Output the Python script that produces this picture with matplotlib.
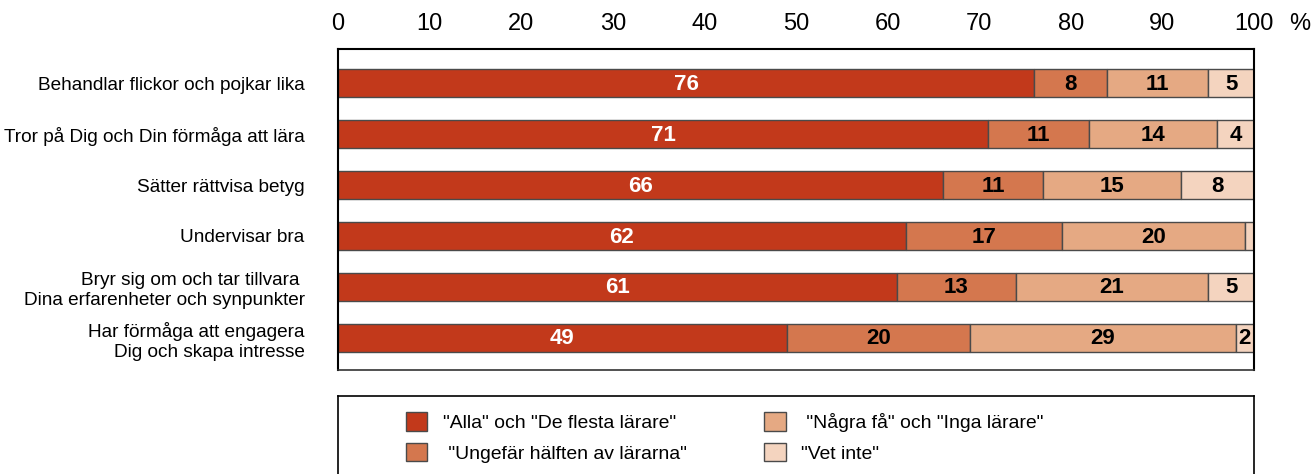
import matplotlib
matplotlib.use('Agg')
import matplotlib.pyplot as plt
from matplotlib import font_manager
import numpy as np

categories = ["Behandlar flickor och pojkar lika",
              "Tror på Dig och Din förmåga att lära",
              "Sätter rättvisa betyg",
              "Undervisar bra",
              "Bryr sig om och tar tillvara \nDina erfarenheter och synpunkter",
              "Har förmåga att engagera\nDig och skapa intresse"]
alla = [76, 71, 66, 62, 61, 49]
halften = [8, 11, 11, 17, 13, 20]
fa = [11, 14, 15, 20, 21, 29]
vet = [5, 4, 8, 1, 5, 2]
series = [alla, halften, fa, vet]
series_labels = ['"Alla" och "De flesta lärare"', ' "Ungefär hälften av lärarna"',
                 ' "Några få" och "Inga lärare"', '"Vet inte"']
colors = ['#C2391B', '#D4774E', '#E5A983', '#F4D4BF']
text_colors = ['white', 'black', 'black', 'black']
xticks = list(range(0, 101, 10))

names = {f.name for f in font_manager.fontManager.ttflist}
fam = [n for n in ['Liberation Sans Narrow', 'DejaVu Sans Condensed', 'Liberation Sans', 'DejaVu Sans'] if n in names][0]
plt.rcParams['font.family'] = [fam, 'DejaVu Sans']

W, H = 1316, 474
fig = plt.figure(figsize=(W / 100, H / 100), dpi=100)
renderer = fig.canvas.get_renderer()


def fit_size(text, target_px, base=20.0):
    t = fig.text(0, 0, text, fontsize=base)
    w = t.get_window_extent(renderer).width
    t.remove()
    return base * target_px / w


label_fs = min(15.0, fit_size("Tror på Dig och Din förmåga att lära", 301))
legend_fs = min(14.0, fit_size('"Ungefär hälften av lärarna"', 238))
line_px = label_fs * 100 / 72
label_ls = 24.0 / line_px

ax = fig.add_axes([338 / W, 1 - 370 / H, (1254 - 338) / W, (370 - 49) / H])

y = np.arange(len(categories))
left = np.zeros(len(categories))
handles = []
for vals, col, tc, lab in zip(series, colors, text_colors, series_labels):
    vals = np.array(vals, dtype=float)
    bars = ax.barh(y, vals, left=left, height=0.55, color=col, edgecolor='#4a4a4a',
                   linewidth=1.0, label=lab)
    handles.append(bars)
    for yi, l, v in zip(y, left, vals):
        if v >= 2:
            ax.text(l + v / 2, yi + 0.02, f"{int(v)}", ha='center', va='center', color=tc,
                    fontsize=16, fontweight='bold', family='Liberation Sans')
    left += vals

ax.set_xlim(0, 100)
ax.set_ylim(5.63, -0.67)
ax.set_yticks(y)
ax.set_yticklabels(categories, fontsize=label_fs, linespacing=label_ls)
ax.set_xticks(xticks)
ax.set_xticklabels([str(t) for t in xticks], fontsize=17)
ax.xaxis.tick_top()
ax.tick_params(axis='x', length=0, pad=10)
ax.tick_params(axis='y', length=0, pad=24)
for s in ax.spines.values():
    s.set_color('black')
    s.set_linewidth(1.5)
ax.spines['bottom'].set_color('#333333')
ax.spines['bottom'].set_linewidth(1.2)
fig.text(1300 / W, 1 - 24 / H, '%', fontsize=17, ha='center', va='center')

lax = fig.add_axes([338 / W, 0, (1254 - 338) / W, (474 - 396) / H])
lax.set_xticks([])
lax.set_yticks([])
lax.spines['bottom'].set_visible(False)
for k in ['top', 'left', 'right']:
    lax.spines[k].set_linewidth(1.2)
    lax.spines[k].set_color('black')
leg = lax.legend(handles=handles, labels=series_labels, ncol=2, frameon=False,
                 loc='upper left', bbox_to_anchor=(68 / 916, 1 - 16 / 78),
                 fontsize=legend_fs, handlelength=1.1, handleheight=1.1,
                 handletextpad=0.8, columnspacing=4.0, labelspacing=0.55,
                 borderaxespad=0, borderpad=0)

fig.savefig('out.png', dpi=100)
